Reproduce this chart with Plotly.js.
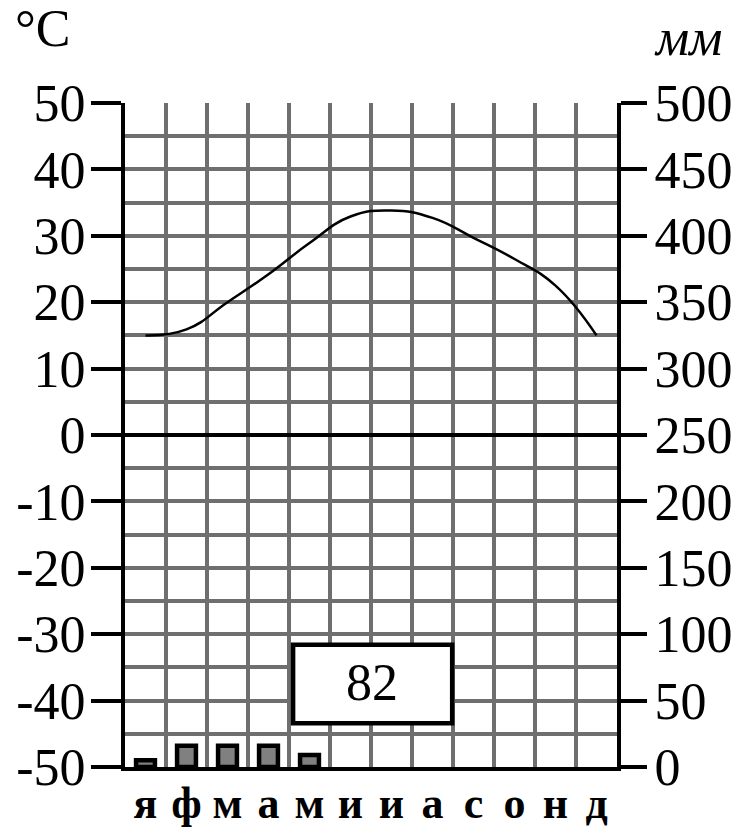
<!DOCTYPE html>
<html>
<head>
<meta charset="utf-8">
<script src="https://cdn.plot.ly/plotly-3.0.1.min.js"></script>
<style>html,body{margin:0;padding:0;background:#fff;}#chart{width:737px;height:834px;}</style>
</head>
<body>
<div id="chart"></div>
<script>
// Data
const months = [1,2,3,4,5,6,7,8,9,10,11,12];
const monthLabels = ['я','ф','м','а','м','и','и','а','с','о','н','д'];
const temperature = [15.0, 15.9, 20.0, 24.2, 28.9, 32.9, 33.8, 32.7, 29.7, 26.5, 22.5, 15.0];
const precipitation = [5, 16, 16, 16, 9, null, null, null, null, null, null, null];
const annualPrecip = '82';
const tempTicks = [-50,-40,-30,-20,-10,0,10,20,30,40,50];
const tempTickLabels = ['-50','-40','-30','-20','-10','0','10','20','30','40','50'];
const precipTicks = [0,50,100,150,200,250,300,350,400,450,500];

const serif = 'Liberation Serif, Times New Roman, serif';
const gridGray = '#6f6f6f';

const traces = [
  {
    x: months, y: precipitation, type: 'bar', yaxis: 'y2', width: 0.46,
    marker: {color: '#808080', line: {color: '#000', width: 4.5}},
    hoverinfo: 'skip', showlegend: false
  },
  {
    x: months, y: temperature, type: 'scatter', mode: 'lines',
    line: {color: '#000', width: 2.5, shape: 'spline', smoothing: 1.3},
    hoverinfo: 'skip', showlegend: false
  }
];

const layout = {
  width: 737, height: 834,
  margin: {l: 125, r: 120, t: 103, b: 67},
  paper_bgcolor: '#fff', plot_bgcolor: '#fff',
  showlegend: false,
  xaxis: {
    range: [0.5, 12.5], tickvals: months, ticktext: monthLabels,
    showgrid: false, zeroline: false,
    showline: true, linecolor: '#000', linewidth: 4,
    ticks: '', ticklabelstandoff: -6,
    tickfont: {family: serif, size: 44, color: '#000', weight: 'bold'},
    minor: {tick0: 0.5, dtick: 1, showgrid: true, gridcolor: gridGray, gridwidth: 4, ticks: ''},
    fixedrange: true
  },
  yaxis: {
    range: [-50, 50], tickvals: tempTicks, ticktext: tempTickLabels,
    showgrid: true, gridcolor: gridGray, gridwidth: 4,
    zeroline: true, zerolinecolor: '#000', zerolinewidth: 4,
    showline: true, linecolor: '#000', linewidth: 4,
    ticks: 'outside', ticklen: 30, tickwidth: 4, tickcolor: '#000',
    ticklabelstandoff: -5,
    tickfont: {family: serif, size: 52, color: '#000'},
    minor: {dtick: 5, showgrid: true, gridcolor: gridGray, gridwidth: 4, ticks: ''},
    fixedrange: true
  },
  yaxis2: {
    range: [0, 500], tickvals: precipTicks, overlaying: 'y', side: 'right',
    showgrid: false, zeroline: false,
    showline: true, linecolor: '#000', linewidth: 4,
    ticks: 'outside', ticklen: 26, tickwidth: 4, tickcolor: '#000',
    ticklabelstandoff: -3,
    tickfont: {family: serif, size: 52, color: '#000'},
    fixedrange: true
  },
  shapes: [
    {type: 'rect', xref: 'x', yref: 'y', x0: 4.6, x1: 8.48, y0: -43.4, y1: -31.6,
     line: {color: '#000', width: 4.5}, fillcolor: '#fff', layer: 'above'}
  ],
  annotations: [
    {xref: 'x', yref: 'y', x: 6.52, y: -37.2, text: annualPrecip, showarrow: false,
     font: {family: serif, size: 52, color: '#000'}},
    {xref: 'paper', yref: 'paper', x: -0.228, y: 1.112, xanchor: 'left', yanchor: 'middle',
     text: '°C', showarrow: false, font: {family: serif, size: 52, color: '#000'}},
    {xref: 'paper', yref: 'paper', x: 1.072, y: 1.098, xanchor: 'left', yanchor: 'middle',
     text: '<i>мм</i>', showarrow: false, font: {family: serif, size: 52, color: '#000'}}
  ]
};

Plotly.newPlot('chart', traces, layout, {staticPlot: true, displayModeBar: false});
</script>
</body>
</html>
